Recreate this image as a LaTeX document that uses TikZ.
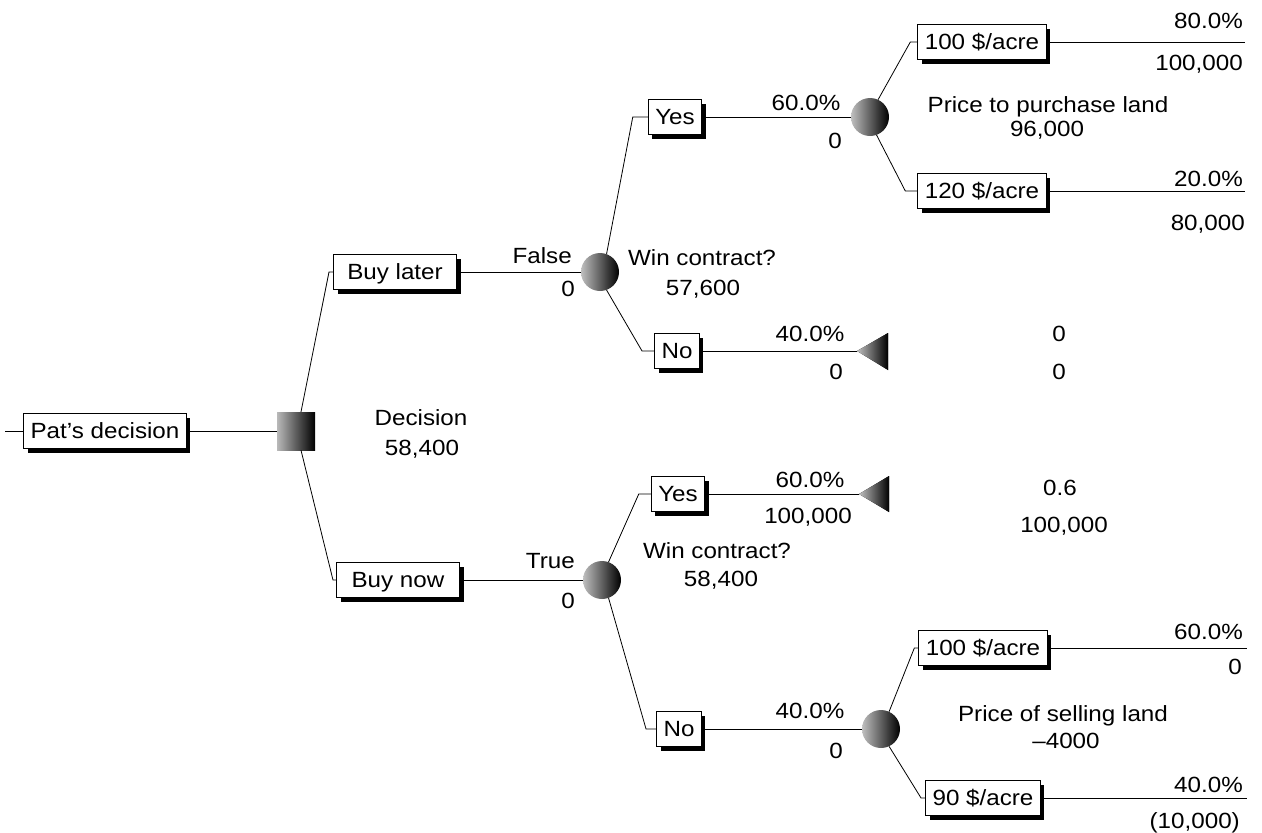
\documentclass[tikz,border=0pt]{standalone}
\usepackage{fontspec}
\setmainfont{Liberation Sans}[FakeStretch=1.1]
\usetikzlibrary{shadows}
\begin{document}
\begin{tikzpicture}[x=1pt,y=-1pt,
  font=\fontsize{22}{24}\selectfont,
  box/.style={draw, line width=1pt, fill=white, text height=15.8pt, text depth=0pt,
    inner xsep=7pt, minimum height=35pt,
    drop shadow={shadow xshift=4pt, shadow yshift=-4pt, fill=black, opacity=1}},
  lbl/.style={inner sep=0pt, text height=15.8pt, text depth=0pt},
  chance/.style={circle, minimum size=38pt, inner sep=0pt, left color=gray!50, middle color=black!80, right color=black},
  decsq/.style={rectangle, minimum size=38pt, inner sep=0pt, left color=gray!55, middle color=black!75, right color=black},
  term/.style={left color=gray!50, middle color=black!80, right color=black},
  edge/.style={line width=0.8pt}]
\useasboundingbox (0,0) rectangle (1262,833);

% decision root
\coordinate (in) at (5,431);
\node[box] (pat) at (105,431) {Pat’s decision};
\node[decsq] (d) at (296,431) {};
\node[lbl] (declbl) at (421,418) {Decision};
\node[lbl] (decval) at (422,448) {58,400};

% Buy later branch
\node[box, minimum width=123pt] (bl) at (395,272) {Buy later};
\node[chance] (c1) at (600,272) {};
\node[lbl, anchor=east] (falsel) at (572,256) {False};
\node[lbl] (falsev) at (568,289) {0};
\node[lbl] (wc1) at (702,258) {Win contract?};
\node[lbl] (wc1v) at (703,288) {57,600};

\node[box] (yu) at (675,117) {Yes};
\node[chance] (c2) at (870,117) {};
\node[lbl] (yup) at (806,103) {60.0\%};
\node[lbl] (yuv) at (835,141) {0};
\node[lbl] (pp) at (1048,105) {Price to purchase land};
\node[lbl] (ppv) at (1047,129) {96,000};

\node[box] (p100) at (982,42) {100 \$/acre};
\coordinate (e100) at (1245,42);
\node[lbl, anchor=east] (p100p) at (1243,21) {80.0\%};
\node[lbl, anchor=east] (p100v) at (1243,63) {100,000};

\node[box] (p120) at (982,191) {120 \$/acre};
\coordinate (e120) at (1245,191);
\node[lbl, anchor=east] (p120p) at (1243,179) {20.0\%};
\node[lbl, anchor=east] (p120v) at (1245,223) {80,000};

\node[box] (nu) at (677,351) {No};
\coordinate (t1) at (857,351);
\node[lbl] (nup) at (810,334) {40.0\%};
\node[lbl] (nuv) at (836,372) {0};
\node[lbl] (t1a) at (1059,334) {0};
\node[lbl] (t1b) at (1059,372) {0};

% Buy now branch
\node[box, minimum width=123pt] (bn) at (398,580) {Buy now};
\node[chance] (c3) at (602,580) {};
\node[lbl, anchor=east] (truel) at (575,561) {True};
\node[lbl] (truev) at (568,601) {0};
\node[lbl] (wc2) at (717,551) {Win contract?};
\node[lbl] (wc2v) at (721,579) {58,400};

\node[box] (yl) at (678,494) {Yes};
\coordinate (t2) at (859,494);
\node[lbl] (ylp) at (810,480) {60.0\%};
\node[lbl] (ylv) at (808,516) {100,000};
\node[lbl] (t2a) at (1060,488) {0.6};
\node[lbl] (t2b) at (1064,525) {100,000};

\node[box] (nl) at (679,729) {No};
\node[chance] (c4) at (881,729) {};
\node[lbl] (nlp) at (810,711) {40.0\%};
\node[lbl] (nlv) at (836,751) {0};
\node[lbl] (ps) at (1063,714) {Price of selling land};
\node[lbl] (psv) at (1066,741) {–4000};

\node[box] (s100) at (983,648) {100 \$/acre};
\coordinate (es100) at (1247,648);
\node[lbl, anchor=east] (s100p) at (1243,632) {60.0\%};
\node[lbl, anchor=east] (s100v) at (1242,667) {0};

\node[box] (s90) at (983,798) {90 \$/acre};
\coordinate (es90) at (1247,798);
\node[lbl, anchor=east] (s90p) at (1243,785) {40.0\%};
\node[lbl, anchor=east] (s90v) at (1240,821) {(10,000)};

% terminal triangles
\fill[term] (t1) -- ++(31,-18) -- ++(0,37) -- cycle;
\fill[term] (t2) -- ++(30,-18) -- ++(0,36) -- cycle;

% connectors
\draw[edge] (in) -- (pat.west);
\draw[edge] (pat.east) -- (d.west);
\draw[edge] ([xshift=5pt]d.north) -- ([xshift=-4pt]bl.west) -- (bl.west);
\draw[edge] ([xshift=5pt]d.south) -- ([xshift=-3pt]bn.west) -- (bn.west);

\draw[edge] (bl.east) -- (c1.west);
\draw[edge] (c1.70) -- ([xshift=-15pt]yu.west) -- (yu.west);
\draw[edge] (c1.-70) -- ([xshift=-12pt]nu.west) -- (nu.west);
\draw[edge] (yu.east) -- (c2.west);
\draw[edge] (nu.east) -- (t1);
\draw[edge] (c2.65) -- ([xshift=-7pt]p100.west) -- (p100.west);
\draw[edge] (c2.-70) -- ([xshift=-12pt]p120.west) -- (p120.west);
\draw[edge] (p100.east) -- (e100);
\draw[edge] (p120.east) -- (e120);

\draw[edge] (bn.east) -- (c3.west);
\draw[edge] (c3.70) -- ([xshift=-12pt]yl.west) -- (yl.west);
\draw[edge] (c3.-70) -- ([xshift=-10pt]nl.west) -- (nl.west);
\draw[edge] (yl.east) -- (t2);
\draw[edge] (nl.east) -- (c4.west);
\draw[edge] (c4.65) -- ([xshift=-4pt]s100.west) -- (s100.west);
\draw[edge] (c4.-65) -- ([xshift=-4pt]s90.west) -- (s90.west);
\draw[edge] (s100.east) -- (es100);
\draw[edge] (s90.east) -- (es90);
\end{tikzpicture}
\end{document}
